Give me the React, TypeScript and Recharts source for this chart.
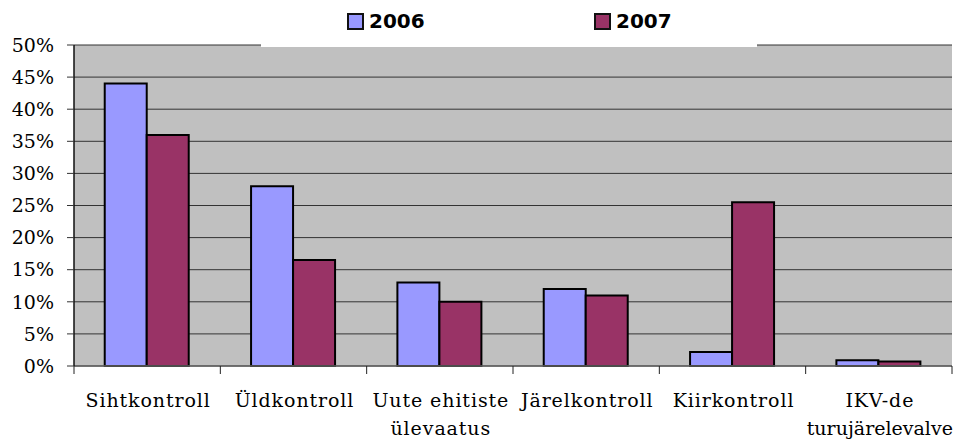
import React from "react";
import { BarChart, Bar, XAxis, YAxis, CartesianGrid, Legend } from "recharts";

const categories = [
  "Sihtkontroll",
  "Üldkontroll",
  "Uute ehitiste ülevaatus",
  "Järelkontroll",
  "Kiirkontroll",
  "IKV-de turujärelevalve",
];
const categoryLines = [
  ["Sihtkontroll"],
  ["Üldkontroll"],
  ["Uute ehitiste", "ülevaatus"],
  ["Järelkontroll"],
  ["Kiirkontroll"],
  ["IKV-de", "turujärelevalve"],
];
const values2006 = [44, 28, 13, 12, 2.2, 0.9];
const values2007 = [36, 16.5, 10, 11, 25.5, 0.7];
const yTicks = [0, 5, 10, 15, 20, 25, 30, 35, 40, 45, 50];
const seriesNames = ["2006", "2007"];
const seriesColors = ["#9999FF", "#993366"];

const data = categories.map((c, i) => ({
  name: c,
  v2006: values2006[i],
  v2007: values2007[i],
}));

const SERIF = "'DejaVu Serif', 'Liberation Serif', serif";

const CategoryTick = (props: any) => {
  const { x, y, payload, index, visibleTicksCount, width } = props;
  const band = (width || 878) / (visibleTicksCount || categories.length);
  const lines = categoryLines[index] || [String(payload.value)];
  const left = x - band / 2;
  const right = x + band / 2;
  return (
    <g>
      <line x1={left} x2={left} y1={y} y2={y + 8} stroke="#222" strokeWidth={1} />
      {index === categories.length - 1 && (
        <line x1={right} x2={right} y1={y} y2={y + 8} stroke="#222" strokeWidth={1} />
      )}
      <text
        x={x}
        y={y}
        textAnchor="middle"
        fontFamily={SERIF}
        fontSize={19}
        fill="#000"
      >
        {lines.map((l, i) => (
          <tspan
            key={i}
            x={x + 1}
            dy={i === 0 ? 41 : 28}
            letterSpacing={l.length > 14 ? 0 : 0.9}
          >
            {l}
          </tspan>
        ))}
      </text>
    </g>
  );
};

const LegendContent = () => (
  <div
    style={{
      position: "relative",
      width: 496,
      height: 47,
      background: "#fff",
    }}
  >
    {seriesNames.map((n, i) => (
      <div
        key={n}
        style={{
          position: "absolute",
          left: 86 + i * 247,
          top: 8,
          display: "flex",
          alignItems: "center",
          fontFamily: "'DejaVu Sans', Verdana, sans-serif",
          fontWeight: "bold",
          fontSize: 20,
          color: "#000",
          lineHeight: "26px",
        }}
      >
        <span
          style={{
            display: "inline-block",
            width: 13,
            height: 13,
            background: seriesColors[i],
            border: "2px solid #111",
            marginRight: 5,
          }}
        />
        <span>{n}</span>
      </div>
    ))}
  </div>
);

export default function App() {
  return (
    <div style={{ position: "absolute", left: 0, top: 0, width: 956, height: 440 }}>
      <BarChart
        width={956}
        height={440}
        data={data}
        margin={{ top: 45, right: 4, bottom: 0, left: 0 }}
        barCategoryGap="21%"
        barGap={0}
      >
        <CartesianGrid
          vertical={false}
          fill="#C0C0C0"
          fillOpacity={1}
          stroke="#333"
          strokeWidth={1}
        />
        <XAxis
          dataKey="name"
          height={74}
          interval={0}
          tickLine={false}
          tickSize={0}
          tickMargin={0}
          axisLine={{ stroke: "#666", strokeWidth: 1.5 }}
          tick={<CategoryTick />}
        />
        <YAxis
          width={74}
          domain={[0, 50]}
          ticks={yTicks}
          interval={0}
          tickFormatter={(v: number) => `${v}%`}
          tickSize={7}
          tickMargin={13}
          tickLine={{ stroke: "#333" }}
          axisLine={{ stroke: "#111", strokeWidth: 1.5 }}
          tick={{ fontFamily: SERIF, fontSize: 19, fill: "#000" }}
        />
        <Legend
          layout="horizontal"
          verticalAlign="middle"
          align="center"
          content={<LegendContent />}
          wrapperStyle={{ position: "absolute", top: 0, left: 261, width: 496, height: 47 }}
        />
        <Bar
          dataKey="v2006"
          name={seriesNames[0]}
          fill={seriesColors[0]}
          stroke="#000"
          strokeWidth={2}
          isAnimationActive={false}
        />
        <Bar
          dataKey="v2007"
          name={seriesNames[1]}
          fill={seriesColors[1]}
          stroke="#000"
          strokeWidth={2}
          isAnimationActive={false}
        />
      </BarChart>
    </div>
  );
}
